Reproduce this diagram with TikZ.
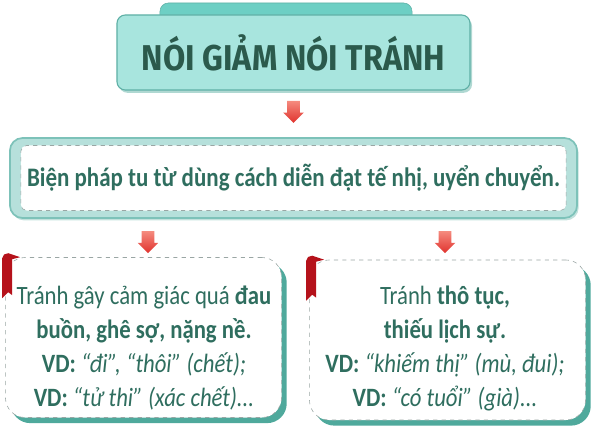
\documentclass[tikz,border=0pt]{standalone}
\usepackage{fontspec}
\setmainfont{Carlito}[FakeStretch=0.86]
\newfontfamily\titlefont{Fira Sans}[FakeStretch=0.9]
\usetikzlibrary{shapes.arrows, shadows, positioning}
\definecolor{tabteal}{HTML}{6DCFC4}
\definecolor{titlefill}{HTML}{A8E5DE}
\definecolor{titleline}{HTML}{5FB0A6}
\definecolor{titleink}{HTML}{2B5A4C}
\definecolor{boxfill}{HTML}{B6E0DB}
\definecolor{boxline}{HTML}{7DC2B9}
\definecolor{ink}{HTML}{2F6E5F}
\definecolor{shade}{HTML}{4FA99C}
\definecolor{dashgray}{HTML}{9AA6A4}
\definecolor{arrowtop}{HTML}{F58B7E}
\definecolor{arrowbot}{HTML}{E0322E}
\definecolor{ribbonred}{HTML}{B5121B}

\begin{document}
\begin{tikzpicture}[x=0.025cm, y=-0.025cm,
    titletab/.style={fill=tabteal, draw=titleline, rounded corners=6pt,
        minimum width=6.3cm, minimum height=0.7cm},
    titlebox/.style={fill=titlefill, draw=titleline, line width=0.8pt, rounded corners=6pt,
        minimum width=8.825cm, minimum height=1.875cm, text=titleink,
        font=\titlefont\bfseries\fontsize{25.5}{28}\selectfont,
        drop shadow={opacity=0.45, fill=shade, shadow xshift=0.05cm, shadow yshift=-0.07cm}},
    outerbox/.style={fill=boxfill, draw=boxline, line width=1.2pt, rounded corners=9pt,
        minimum width=14.175cm, minimum height=2cm,
        drop shadow={opacity=0.35, fill=shade, shadow xshift=0.04cm, shadow yshift=-0.06cm}},
    innerbox/.style={fill=white, draw=dashgray, dashed, rounded corners=4pt,
        minimum width=13.625cm, minimum height=1.625cm, text=ink,
        font=\bfseries\fontsize{19}{22}\selectfont},
    card/.style={fill=white, draw=dashgray, dashed, rounded corners=14pt,
        minimum width=6.9cm, minimum height=4cm,
        drop shadow={opacity=1, fill=shade, shadow xshift=0.13cm, shadow yshift=-0.14cm}},
    cardtext/.style={anchor=north, inner sep=0pt, align=center, text=ink,
        font=\fontsize{18.8}{24.2}\selectfont},
    blockarrow/.style={single arrow, shape border rotate=270, draw=none,
        top color=arrowtop, bottom color=arrowbot, inner sep=0.15cm,
        single arrow head extend=0.1cm, single arrow head indent=0pt,
        minimum height=0.55cm},
    ribbon/.style={fill=ribbonred, draw=none}]
    \useasboundingbox (0,0) rectangle (600,440);

    % title
    \node[titletab] (Ttab) at (286,17) {};
    \node[titlebox] (T) at (293.5,52.5) {NÓI GIẢM NÓI TRÁNH};

    \node[blockarrow, below=0.25cm of T] (a1) {};

    % definition
    \node[outerbox] (B) at (293.5,178) {};
    \node[innerbox] (Bin) at (B) {Biện pháp tu từ dùng cách diễn đạt tế nhị, uyển chuyển.};

    \node[blockarrow] (a2) at (148,239) {};
    \node[blockarrow] (a3) at (445,239) {};

    % two cards
    \node[card] (L) at (143.5,337.5) {};
    \node[cardtext] (Ltxt) at (144,286) {Tránh gây cảm giác quá \textbf{đau}\\
        \textbf{buồn, ghê sợ, nặng nề.}\\
        \textbf{VD:} \textit{“đi”, “thôi” (chết);}\\
        \textbf{VD:} \textit{“tử thi” (xác chết)...}};
    \node[card] (R) at (447.5,340) {};
    \node[cardtext] (Rtxt) at (445,286) {Tránh \textbf{thô tục,}\\
        \textbf{thiếu lịch sự.}\\
        \textbf{VD:} \textit{“khiếm thị” (mù, đui);}\\
        \textbf{VD:} \textit{“có tuổi” (già)...}};

    \fill[ribbon] (L.north west) ++(-3,-3) coordinate (rl)
        (rl) ++(0,44) -- ++(0,-40) to[out=90,in=180] ++(6,-5) -- ++(12,4) -- ++(-8,2) -- ++(0,36) -- ++(-4,-3) -- cycle;
    \fill[ribbon] (R.north west) ++(-3,-3) coordinate (rr)
        (rr) ++(0,44) -- ++(0,-40) to[out=90,in=180] ++(6,-5) -- ++(12,4) -- ++(-8,2) -- ++(0,36) -- ++(-4,-3) -- cycle;
\end{tikzpicture}
\end{document}
